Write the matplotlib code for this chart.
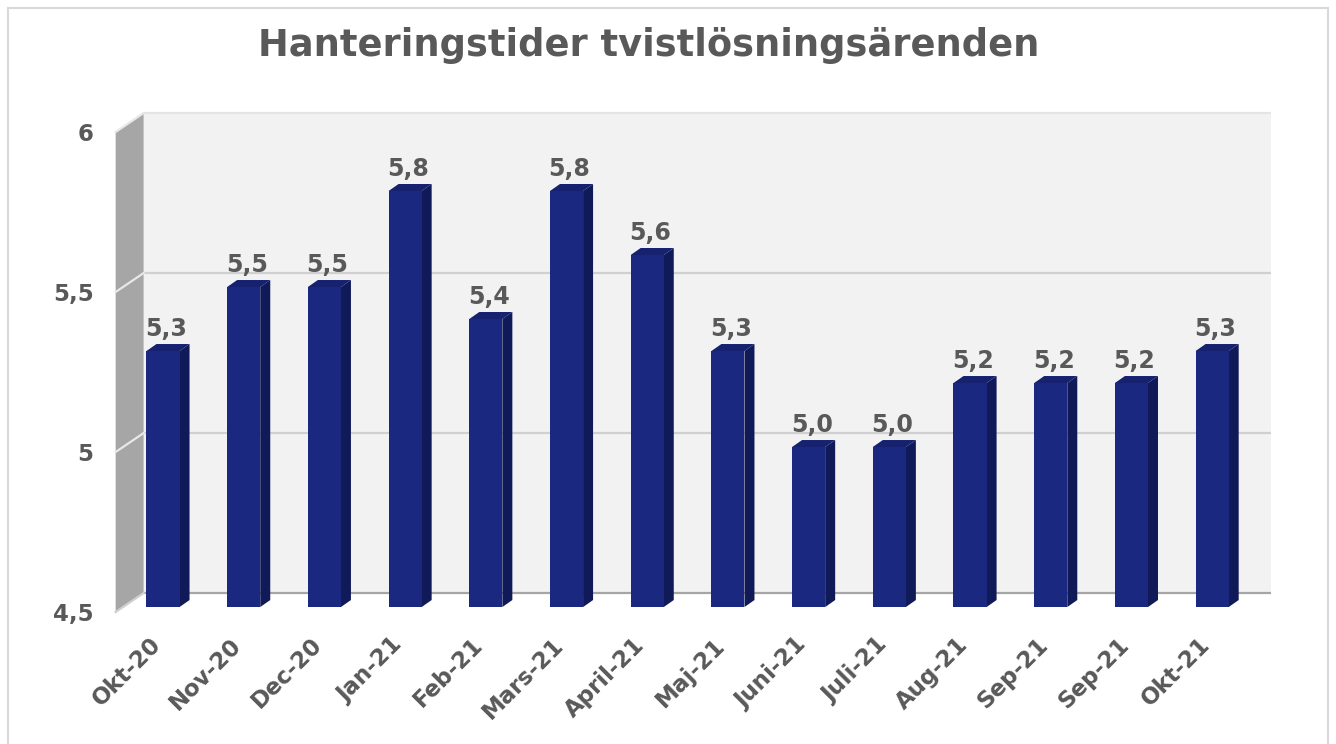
import matplotlib
matplotlib.use('Agg')
import matplotlib.pyplot as plt
from matplotlib.patches import Polygon, Rectangle
from matplotlib.lines import Line2D
import matplotlib.transforms as mtransforms

categories = ['Okt-20', 'Nov-20', 'Dec-20', 'Jan-21', 'Feb-21', 'Mars-21', 'April-21',
              'Maj-21', 'Juni-21', 'Juli-21', 'Aug-21', 'Sep-21', 'Sep-21', 'Okt-21']
values = [5.3, 5.5, 5.5, 5.8, 5.4, 5.8, 5.6, 5.3, 5.0, 5.0, 5.2, 5.2, 5.2, 5.3]
yticks = [4.5, 5.0, 5.5, 6.0]
ytick_labels = ['4,5', '5', '5,5', '6']
title = 'Hanteringstider tvistlösningsärenden'

plt.rcParams['font.family'] = ['DejaVu Sans']
W, H, DPI = 1336, 744, 100
fig = plt.figure(figsize=(W / DPI, H / DPI), dpi=DPI)
fig.patch.set_facecolor('white')

ax_l, ax_b, ax_w, ax_h = 0.0918, 0.1841, 0.8457, 0.6452
ax = fig.add_axes([ax_l, ax_b, ax_w, ax_h])
ymin, ymax = 4.5, 6.0
n = len(categories)
ax.set_xlim(-0.5, n - 0.5)
ax.set_ylim(ymin, ymax)
ax.set_facecolor('none')
for s in ax.spines.values():
    s.set_visible(False)

kx = ax_w * W / n
ky = ax_h * H / (ymax - ymin)

# offsets (pixels) of back wall and front plane relative to bar plane
dxb, dyb = 21 / kx, 14 / ky
dxf, dyf = -7 / kx, -5 / ky
x0, x1 = -0.5, n - 0.5

# back wall
ax.add_patch(Rectangle((x0 + dxb, ymin + dyb), x1 - x0 - 3 / kx, ymax - ymin,
                       facecolor='#f2f2f2', edgecolor='none', clip_on=False, zorder=0))
for yv in yticks:
    col = '#a6a6a6' if yv == ymin else ('#e4e4e4' if yv == ymax else '#d0d0d0')
    ax.plot([x0 + dxb, x1 + dxb - 3 / kx], [yv + dyb] * 2, color=col, lw=1.6,
            clip_on=False, zorder=1, solid_capstyle='butt')

# left side wall
ax.add_patch(Polygon([(x0 + dxf, ymin + dyf), (x0 + dxf, ymax + dyf),
                      (x0 + dxb, ymax + dyb), (x0 + dxb, ymin + dyb)],
                     closed=True, facecolor='#a6a6a6', edgecolor='none',
                     clip_on=False, zorder=1))
for yv in yticks:
    col = '#d0d0d0' if yv == ymin else '#e8e8e8'
    ax.plot([x0 + dxf, x0 + dxb], [yv + dyf, yv + dyb], color=col, lw=1.6,
            clip_on=False, zorder=2)

# bars
bw = 0.41
sdx, sdy = 10 / kx, 7 / ky
front_c, side_c, top_c = '#1b2880', '#111a58', '#16226f'
xs = list(range(n))
ax.bar(xs, [v - ymin for v in values], bottom=ymin, width=bw, color=front_c,
       zorder=4, clip_on=False)
for x, v in zip(xs, values):
    r = x + bw / 2
    l = x - bw / 2
    ax.add_patch(Polygon([(r, ymin), (r, v), (r + sdx, v + sdy), (r + sdx, ymin + sdy)],
                         closed=True, facecolor=side_c, edgecolor='none',
                         clip_on=False, zorder=3))
    ax.add_patch(Polygon([(l, v), (r, v), (r + sdx, v + sdy), (l + sdx, v + sdy)],
                         closed=True, facecolor=top_c, edgecolor='none',
                         clip_on=False, zorder=3))
    ax.text(x + 3 / kx, v + 10 / ky, f'{v:.1f}'.replace('.', ','), ha='center',
            va='bottom', fontsize=17, fontweight='bold', color='#595959', zorder=5)

# ticks
ax.set_yticks(yticks)
ax.set_yticklabels(ytick_labels)
ax.set_xticks(xs)
ax.set_xticklabels(categories)
ax.tick_params(axis='y', length=0, pad=21, labelsize=16.5, labelcolor='#595959')
ax.tick_params(axis='x', length=0, pad=19, labelsize=16.5, labelcolor='#595959')
off_y = mtransforms.ScaledTranslation(0, -5 / DPI, fig.dpi_scale_trans)
for lab in ax.get_yticklabels():
    lab.set_fontweight('bold')
    lab.set_transform(lab.get_transform() + off_y)
off_x = mtransforms.ScaledTranslation(-14 / DPI, 0, fig.dpi_scale_trans)
for lab in ax.get_xticklabels():
    lab.set_fontweight('bold')
    lab.set_rotation(45)
    lab.set_ha('right')
    lab.set_va('top')
    lab.set_rotation_mode('anchor')
    lab.set_transform(lab.get_transform() + off_x)

fig.text(649 / W, 1 - 45 / H, title, ha='center', va='center', fontsize=26.5,
         fontweight='bold', color='#595959')

# outer frame
fcol = '#d9d9d9'
fig.add_artist(Line2D([8 / W, 8 / W], [0, 1 - 8 / H], color=fcol, lw=1.5))
fig.add_artist(Line2D([1328 / W, 1328 / W], [0, 1 - 8 / H], color=fcol, lw=1.5))
fig.add_artist(Line2D([8 / W, 1328 / W], [1 - 8 / H, 1 - 8 / H], color=fcol, lw=1.5))

fig.savefig('out.png', dpi=DPI, facecolor='white')
